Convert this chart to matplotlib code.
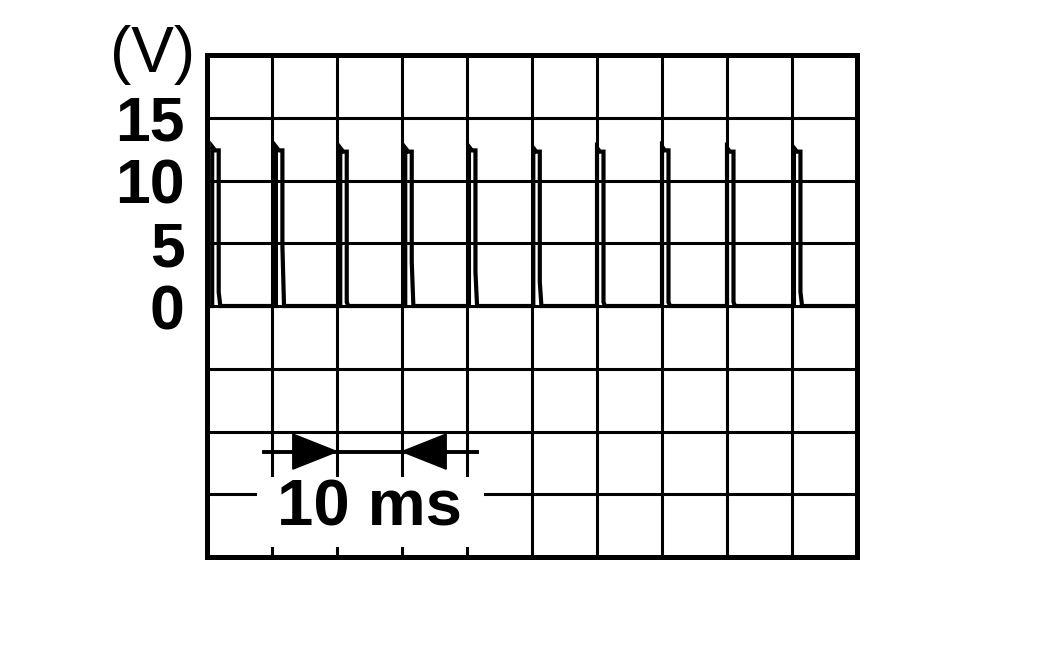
import numpy as np
import matplotlib
matplotlib.use('Agg')
import matplotlib.pyplot as plt
from matplotlib.patches import Rectangle, Polygon

plt.rcParams['font.family'] = ['Liberation Sans', 'DejaVu Sans']

# pulse data (time in ms, voltage in V)
pulse_start = [0.8, 10.6, 20.5, 30.5, 40.3, 50.2, 60.0, 70.0, 80.0, 90.3]
pulse_peak = [12.7, 12.7, 12.6, 12.6, 12.7, 12.6, 12.6, 12.7, 12.6, 12.6]
pulse_flat = [12.4, 12.4, 12.3, 12.3, 12.4, 12.3, 12.3, 12.4, 12.3, 12.3]
pulse_tail = [1.1, 4.8, 0.3, 3.5, 2.7, 1.9, 0.3, 0.3, 0.3, 1.1]
trace_end = 99.5

y_ticks = [-20, -15, -10, -5, 0, 5, 10, 15, 20]
y_labels = ['', '', '', '', '0', '5', '10', '15', '']
span_ms = (20, 30)
span_label = '10 ms'

# build the trace
t, v = [], []
for i in range(len(pulse_start)):
    t0 = pulse_start[i]
    t += [t0, t0, t0 + 0.45, t0 + 1.0, t0 + 1.0, t0 + 1.25]
    v += [0, pulse_peak[i], pulse_flat[i], pulse_flat[i], pulse_tail[i], 0]
t.append(trace_end)
v.append(0)

fig = plt.figure(figsize=(10.52, 6.5), dpi=100)
ax = fig.add_axes([207 / 1052, 93 / 650, 650 / 1052, 502 / 650])
ax.set_xlim(0, 100)
ax.set_ylim(-20, 20)

ax.set_xticks(np.arange(0, 101, 10))
ax.set_xticklabels([])
ax.set_yticks(y_ticks)
ax.set_yticklabels(y_labels, fontsize=45, fontweight='bold')
ax.tick_params(length=0, pad=16)
ax.grid(True, color='black', linewidth=2.2)
ax.set_axisbelow(True)
for s in ax.spines.values():
    s.set_linewidth(3.6)
    s.set_zorder(5)

ax.plot(t, v, color='black', linewidth=3.0, solid_joinstyle='miter', zorder=3)

# white box behind the span label
ax.add_patch(Rectangle((0.077, 0.02), 0.349, 0.14, transform=ax.transAxes,
                       facecolor='white', edgecolor='none', zorder=2))
ax.text(25.0, -16.1, span_label, ha='center', va='center', fontsize=47,
        fontweight='bold', zorder=4)

# dimension line with arrows
y_dim = -11.6
ax.plot([8.8, 41.5], [y_dim, y_dim], color='black', linewidth=2.8, zorder=4)
alen, ah = 6.8, 1.4
ax.add_patch(Polygon([[span_ms[0], y_dim], [span_ms[0] - alen, y_dim + ah],
                      [span_ms[0] - alen, y_dim - ah]], closed=True,
                     facecolor='black', edgecolor='black', zorder=4))
ax.add_patch(Polygon([[span_ms[1], y_dim], [span_ms[1] + alen, y_dim + ah],
                      [span_ms[1] + alen, y_dim - ah]], closed=True,
                     facecolor='black', edgecolor='black', zorder=4))

fig.text(153 / 1052, 1 - 55 / 650, '(V)', ha='center', va='center', fontsize=46)

fig.savefig('out.png', dpi=100)
